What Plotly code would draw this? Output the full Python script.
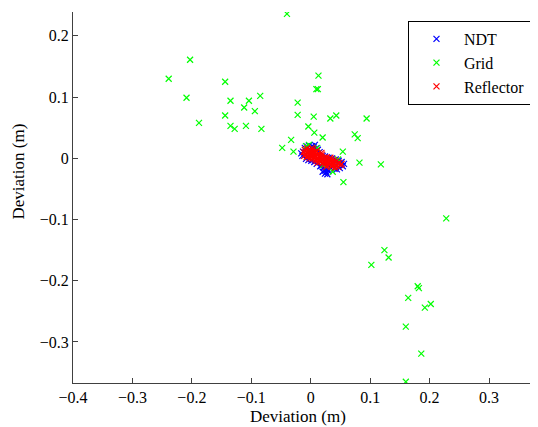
import plotly.graph_objects as go

# ---- data ----
ndt_x = [-0.016, -0.014, -0.013, -0.010, -0.006, -0.003, 0.002, 0.005, 0.007, 0.009,
         -0.008, -0.004, 0.001, 0.012, 0.015, 0.020, 0.024, 0.030, 0.036, 0.042,
         0.047, 0.052, 0.056, 0.054, 0.049, 0.040, 0.034, 0.028, 0.024, 0.026,
         0.022, 0.018, 0.016, 0.030, 0.044, 0.010, 0.006, 0.024, 0.028, 0.020]
ndt_y = [0.008, 0.004, 0.011, 0.017, 0.019, 0.021, 0.020, 0.018, 0.022, 0.016,
         -0.001, -0.003, -0.004, 0.014, 0.010, 0.004, 0.003, 0.001, 0.000, -0.002,
         -0.004, -0.006, -0.009, -0.013, -0.016, -0.017, -0.016, -0.018, -0.020, -0.023,
         -0.015, -0.012, -0.013, -0.021, -0.018, -0.009, -0.006, -0.025, -0.026, -0.022]

grid_x = [-0.040, -0.203, -0.239, -0.144, -0.209, 0.013, 0.0095, 0.012, -0.135, -0.104,
          -0.085, -0.112, -0.094, -0.144, -0.022, -0.022, 0.005, 0.033, 0.043, 0.094,
          -0.188, -0.135, -0.128, -0.109, -0.083, -0.004, 0.006, 0.020, 0.074, 0.079,
          -0.033, -0.048, -0.029, 0.054, 0.082, 0.118, 0.037, 0.055, 0.228, 0.124,
          0.131, 0.102, 0.180, 0.182, 0.164, 0.202, 0.192, 0.160, 0.186, 0.160,
          -0.003, 0.011, 0.046, 0.021, -0.008]
grid_y = [0.236, 0.161, 0.130, 0.125, 0.099, 0.135, 0.113, 0.113, 0.094, 0.094,
          0.102, 0.083, 0.077, 0.070, 0.091, 0.071, 0.068, 0.065, 0.070, 0.065,
          0.058, 0.053, 0.048, 0.053, 0.048, 0.052, 0.042, 0.034, 0.039, 0.033,
          0.030, 0.017, 0.011, 0.011, -0.007, -0.010, -0.022, -0.039, -0.098, -0.150,
          -0.162, -0.174, -0.209, -0.212, -0.228, -0.238, -0.244, -0.275, -0.319, -0.365,
          0.022, 0.017, -0.002, -0.011, 0.020]

refl_x = [-0.012, -0.010, -0.009, -0.008, -0.007, -0.006, -0.005, -0.004, -0.004, -0.003,
          -0.002, -0.002, -0.001, 0.000, 0.000, 0.001, 0.001, 0.002, 0.003, 0.003,
          0.004, 0.004, 0.005, 0.006, 0.006, 0.007, 0.008, 0.008, 0.009, 0.010,
          0.010, 0.011, 0.012, 0.013, 0.014, 0.015, 0.016, 0.017, 0.018, 0.019,
          0.020, 0.021, 0.022, 0.023, 0.024, 0.025, 0.026, 0.027, 0.028, 0.029,
          0.030, 0.031, 0.032, 0.033, 0.034, 0.035, 0.036, 0.037, 0.038, 0.039,
          0.040, 0.042, 0.043, 0.045, 0.046, 0.048, 0.050, 0.052, -0.011, 0.002,
          0.012, 0.026, 0.041, 0.018, 0.033]
refl_y = [0.010, 0.014, 0.006, 0.011, 0.002, 0.016, 0.008, 0.012, 0.003, 0.006,
          0.010, 0.000, 0.014, 0.005, 0.009, 0.002, 0.012, 0.007, -0.001, 0.010,
          0.004, 0.015, 0.008, 0.001, 0.011, 0.005, -0.002, 0.009, 0.003, 0.012,
          -0.004, 0.006, 0.001, 0.008, -0.003, 0.004, -0.006, 0.002, -0.001, 0.006,
          -0.008, -0.003, 0.001, -0.006, -0.010, -0.002, -0.007, 0.002, -0.012, -0.004,
          -0.008, -0.001, -0.011, -0.005, -0.009, -0.002, -0.013, -0.006, -0.010, -0.003,
          -0.008, -0.012, -0.005, -0.009, -0.014, -0.007, -0.011, -0.009, 0.004, 0.017,
          -0.007, -0.014, -0.015, 0.009, 0.001]

x_ticks = [-0.4, -0.3, -0.2, -0.1, 0, 0.1, 0.2, 0.3]
y_ticks = [-0.3, -0.2, -0.1, 0, 0.1, 0.2]

FONT = "Liberation Serif"

def mk(color):
    return dict(symbol="x-thin", size=6, line=dict(color=color, width=1.2), color=color)

fig = go.Figure()
fig.add_trace(go.Scatter(x=ndt_x, y=ndt_y, mode="markers", name="NDT", marker=mk("#0000FF")))
fig.add_trace(go.Scatter(x=grid_x, y=grid_y, mode="markers", name="Grid", marker=mk("#00FF00")))
fig.add_trace(go.Scatter(x=refl_x, y=refl_y, mode="markers", name="Reflector", marker=mk("#FF0000")))

axis_common = dict(
    showgrid=False, zeroline=False, showline=True, linecolor="#404040", linewidth=1,
    ticks="inside", ticklen=5, tickcolor="#404040", mirror=False,
    tickfont=dict(family=FONT, size=16, color="black"),
)
fig.update_xaxes(range=[-0.4, 0.3824], tickvals=x_ticks, **axis_common)
fig.update_yaxes(range=[-0.367, 0.239], tickvals=y_ticks, **axis_common)

# page body has an 8px margin: figure is 530x419 placed at (8,8)
fig.update_layout(
    width=530, height=419,
    margin=dict(l=65, r=0, t=4, b=44),
    paper_bgcolor="white", plot_bgcolor="white",
    font=dict(family=FONT, color="black"),
    legend=dict(
        x=0.7204, y=0.976, xanchor="left", yanchor="top",
        bgcolor="white", bordercolor="black", borderwidth=1,
        itemwidth=45,
        font=dict(family=FONT, size=16, color="black"),
    ),
    annotations=[
        dict(text="Deviation (m)", xref="paper", yref="paper", x=0.484, y=-0.089,
             xanchor="center", yanchor="middle", showarrow=False,
             font=dict(family=FONT, size=17, color="black")),
        dict(text="Deviation (m)", xref="paper", yref="paper", x=-0.117, y=0.569,
             xanchor="center", yanchor="middle", showarrow=False, textangle=-90,
             font=dict(family=FONT, size=17, color="black")),
    ],
)

fig.write_html("out.html")
